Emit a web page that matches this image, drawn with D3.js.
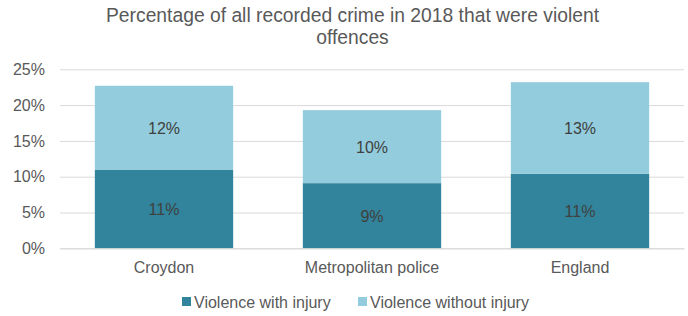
<!DOCTYPE html>
<html><head><meta charset="utf-8">
<script src="https://cdn.jsdelivr.net/npm/d3@7"></script>
<style>body{margin:0;background:#fff}svg{display:block;font-family:"Liberation Sans",Arial,sans-serif}</style>
</head><body>
<svg id="c" width="688" height="316"></svg>
<script>
const categories = ["Croydon", "Metropolitan police", "England"];
const withInjury = [11.0, 9.1, 10.4];
const withoutInjury = [11.7, 10.2, 12.8];
const withLabels = ["11%", "9%", "11%"];
const withoutLabels = ["12%", "10%", "13%"];
const seriesNames = ["Violence with injury", "Violence without injury"];
const yTicks = [0, 5, 10, 15, 20, 25];
const colors = ["#31849B", "#93CDDD"];

const svg = d3.select("#c");
const m = {l: 60, r: 4, t: 69.3, b: 67.7};
const W = 688, H = 316;
const FS = 16;
const x = d3.scaleBand().domain(categories).range([m.l, W - m.r]).paddingInner(0.335).paddingOuter(0.1675);
const y = d3.scaleLinear().domain([0, 25]).range([H - m.b, m.t]);

svg.append("text").attr("x", 352.5).attr("y", 22).attr("text-anchor", "middle")
  .attr("fill", "#595959").attr("font-size", 19.3).text("Percentage of all recorded crime in 2018 that were violent");
svg.append("text").attr("x", 352.5).attr("y", 44).attr("text-anchor", "middle")
  .attr("fill", "#595959").attr("font-size", 19.3).text("offences");

const yAxis = d3.axisLeft(y).tickValues(yTicks).tickFormat(d => d + "%").tickSize(-(W - m.l - m.r)).tickPadding(15);
const ga = svg.append("g").attr("transform", `translate(${m.l},0)`).call(yAxis);
ga.select(".domain").remove();
ga.selectAll(".tick line").attr("stroke", "#d9d9d9").attr("stroke-width", 1);
ga.selectAll(".tick text").attr("fill", "#595959").attr("font-size", FS).attr("font-family", "Liberation Sans, Arial, sans-serif");

const stackData = categories.map((c, i) => ({c, a: withInjury[i], b: withoutInjury[i], la: withLabels[i], lb: withoutLabels[i]}));
const g = svg.append("g");
stackData.forEach(d => {
  g.append("rect").attr("x", x(d.c)).attr("width", x.bandwidth())
    .attr("y", y(d.a)).attr("height", y(0) - y(d.a)).attr("fill", colors[0]);
  g.append("rect").attr("x", x(d.c)).attr("width", x.bandwidth())
    .attr("y", y(d.a + d.b)).attr("height", y(d.a) - y(d.a + d.b)).attr("fill", colors[1]);
  g.append("text").attr("x", x(d.c) + x.bandwidth() / 2).attr("y", (y(0) + y(d.a)) / 2 + 6)
    .attr("text-anchor", "middle").attr("fill", "#404040").attr("font-size", FS).text(d.la);
  g.append("text").attr("x", x(d.c) + x.bandwidth() / 2).attr("y", (y(d.a) + y(d.a + d.b)) / 2 + 6)
    .attr("text-anchor", "middle").attr("fill", "#404040").attr("font-size", FS).text(d.lb);
});

const xAxis = d3.axisBottom(x).tickSize(0).tickPadding(13);
const gx = svg.append("g").attr("transform", `translate(0,${y(0)})`).call(xAxis);
gx.select(".domain").attr("stroke", "#d9d9d9");
gx.selectAll(".tick text").attr("fill", "#595959").attr("font-size", FS).attr("font-family", "Liberation Sans, Arial, sans-serif");

const legX = [182, 358];
seriesNames.forEach((n, i) => {
  svg.append("rect").attr("x", legX[i]).attr("y", 297).attr("width", 9).attr("height", 9).attr("fill", colors[i]);
  svg.append("text").attr("x", legX[i] + 12).attr("y", 308).attr("fill", "#595959").attr("font-size", FS).text(n);
});
</script>
</body></html>
